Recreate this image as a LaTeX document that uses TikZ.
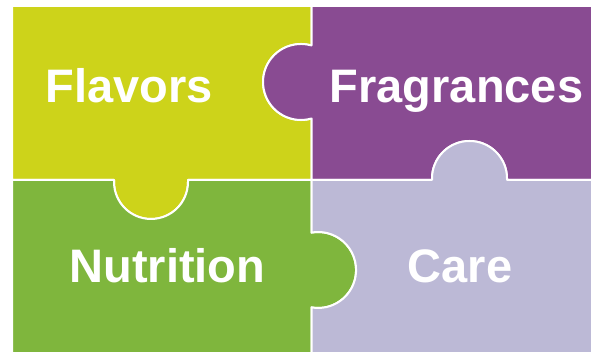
\documentclass[tikz,border=0pt]{standalone}
\usepackage{fontspec}
\setmainfont{Liberation Sans}
\definecolor{flavorcol}{RGB}{205,211,26}
\definecolor{fragcol}{RGB}{137,75,146}
\definecolor{nutricol}{RGB}{127,182,61}
\definecolor{carecol}{RGB}{188,185,214}
\begin{document}
\begin{tikzpicture}[x=1pt,y=1pt,
  piece/.style={draw=white,line width=2pt,line join=round},
  label/.style={text=white,font=\fontsize{47}{50}\selectfont\bfseries,anchor=base,inner sep=0pt}]
\useasboundingbox (0,0) rectangle (594,352);
% corners and seams
\def\L{12}\def\T{346}\def\R{592}\def\B{-3}\def\X{311.5}\def\Y{172}
% Flavors piece (top left)
\path[piece,fill=flavorcol]
  (\L,\T) -- (\X,\T) -- (\X,306.5)
  arc[start angle=74,end angle=286,radius=38]
  -- (\X,\Y) -- (188,\Y) -- (188,\Y-2)
  arc[start angle=0,end angle=-180,radius=37]
  -- (114,\Y) -- (\L,\Y) -- cycle;
% Fragrances piece (top right)
\path[piece,fill=fragcol]
  (\X,\T) -- (\R,\T) -- (\R,\Y) -- (507,\Y) -- (507,\Y+1.5)
  arc[start angle=0,end angle=180,radius=37.5]
  -- (432,\Y) -- (\X,\Y) -- (\X,233.5)
  arc[start angle=286,end angle=74,radius=38] -- cycle;
% Nutrition piece (bottom left)
\path[piece,fill=nutricol]
  (\L,\Y) -- (114,\Y) -- (114,\Y-2)
  arc[start angle=-180,end angle=0,radius=37]
  -- (188,\Y) -- (\X,\Y) -- (\X,119.4)
  arc[start angle=100,end angle=-100,radius=38]
  -- (\X,\B) -- (\L,\B) -- cycle;
% Care piece (bottom right)
\path[piece,fill=carecol]
  (\X,\Y) -- (432,\Y) -- (432,\Y+1.5)
  arc[start angle=180,end angle=0,radius=37.5]
  -- (507,\Y) -- (\R,\Y) -- (\R,\B) -- (\X,\B) -- (\X,44.6)
  arc[start angle=-100,end angle=100,radius=38] -- cycle;
% labels
\node[label] (flavors) at (129.5,249) {Flavors};
\node[label] (fragrances) at (456.5,249) {Fragrances};
\node[label] (nutrition) at (167.5,69) {Nutrition};
\node[label] (care) at (460,69) {Care};
\end{tikzpicture}
\end{document}
